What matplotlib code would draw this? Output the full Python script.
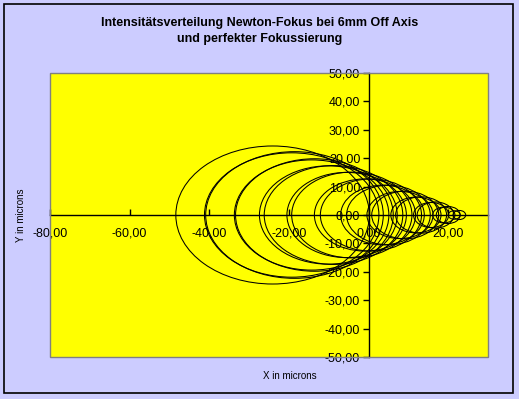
import matplotlib
matplotlib.use("Agg")
import matplotlib.pyplot as plt
from matplotlib.patches import Ellipse, Rectangle
from matplotlib.ticker import FuncFormatter, MultipleLocator

plt.rcParams['font.family'] = ['Liberation Sans', 'DejaVu Sans']

# Kreise (Mittelpunkt x, Radius)
mitte_a = [-24.1, -19.3, -14.3, -10.1, -5.5, -0.9, 3.5, 7.9, 11.9, 15.7, 18.9, 21.5]
radius_a = [24.3, 21.9, 19.4, 17.3, 15.0, 12.7, 10.5, 8.3, 6.3, 4.4, 2.8, 1.5]
mitte_b = [-18.6, -13.6, -8.8, -4.2, 0.6, 5.0, 9.2, 13.2, 16.8, 20.0, 22.8]
radius_b = [22.3, 19.8, 17.4, 15.1, 12.7, 10.5, 8.4, 6.4, 4.6, 3.0, 1.6]

titel = "Intensitätsverteilung Newton-Fokus bei 6mm Off Axis\nund perfekter Fokussierung"

fig = plt.figure(figsize=(5.19, 3.99), dpi=100)
fig.patch.set_facecolor('#CCCCFF')
fig.patches.append(Rectangle((4/519, 6/399), 509/519, 389/399, transform=fig.transFigure,
                             fill=False, edgecolor='black', linewidth=1.2))

ax = fig.add_axes([50/519, 42/399, 438/519, 284/399])
ax.set_facecolor('yellow')
ax.set_xlim(-80, 30)
ax.set_ylim(-50, 50)

for m, r in zip(mitte_a, radius_a):
    ax.add_patch(Ellipse((m, 0), 2*r, 2*r, fill=False, edgecolor='black', linewidth=0.75))
for m, r in zip(mitte_b, radius_b):
    ax.add_patch(Ellipse((m, 0), 2*r, 2*r, fill=False, edgecolor='black', linewidth=0.75))

# Achsen durch den Nullpunkt
ax.spines['left'].set_position(('data', 0))
ax.spines['bottom'].set_position(('data', 0))
ax.spines['top'].set_visible(False)
ax.spines['right'].set_visible(False)
for s in ['left', 'bottom']:
    ax.spines[s].set_color('black')
    ax.spines[s].set_linewidth(1.0)
ax.add_patch(Rectangle((0, 0), 1, 1, transform=ax.transAxes, fill=False,
                       edgecolor='#808080', linewidth=1.0, clip_on=False, zorder=5))

fmt = FuncFormatter(lambda v, p: f"{v:.2f}".replace('.', ','))
ax.xaxis.set_major_locator(MultipleLocator(20))
ax.yaxis.set_major_locator(MultipleLocator(10))
ax.xaxis.set_major_formatter(fmt)
ax.yaxis.set_major_formatter(fmt)
ax.tick_params(axis='x', direction='in', length=4, width=1, labelsize=9, pad=9)
ax.tick_params(axis='y', direction='out', length=4, width=1, labelsize=9, pad=2)

fig.text(0.5, 0.922, titel, ha='center', va='center', fontsize=9, fontweight='bold',
         linespacing=1.4)
fig.text(290/519, 1 - 376/399, "X in microns", ha='center', va='center', fontsize=7)
fig.text(21/519, 1 - 215/399, "Y in microns", ha='center', va='center', fontsize=7,
         rotation=90)

fig.savefig('out.png', dpi=100, facecolor=fig.get_facecolor())
